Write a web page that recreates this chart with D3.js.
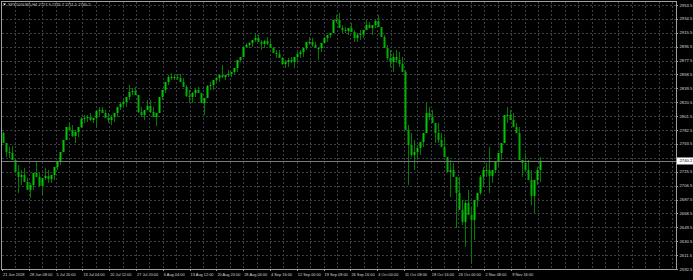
<!DOCTYPE html>
<html>
<head>
<meta charset="utf-8">
<script src="https://cdn.jsdelivr.net/npm/d3@7"></script>
<style>
  body { margin: 0; background: #000; }
  svg { display: block; }
</style>
</head>
<body>
<div id="chart"></div>
<script>
const symbol = "SPX500USD,H4";
const firstOpen = 2778.5;
const highs = [
  2779.9, 2764.8, 2759.4, 2760.7, 2744.3, 2734.8, 2727.9, 2730.7, 2717.0, 2710.2,
  2723.8, 2740.2, 2723.8, 2717.0, 2730.7, 2727.9, 2721.1, 2732.0, 2738.9, 2752.5,
  2768.9, 2786.7, 2793.5, 2789.4, 2782.6, 2786.7, 2800.4, 2803.1, 2803.1, 2805.8,
  2799.0, 2809.9, 2814.0, 2814.0, 2809.9, 2805.8, 2803.1, 2805.8, 2814.0, 2820.9,
  2823.6, 2827.7, 2844.1, 2840.0, 2841.4, 2823.6, 2814.0, 2809.9, 2823.6, 2823.6,
  2814.0, 2805.8, 2827.7, 2837.3, 2848.2, 2857.8, 2860.5, 2857.8, 2859.1, 2859.1,
  2853.7, 2844.1, 2837.3, 2834.5, 2840.0, 2841.4, 2833.2, 2826.3, 2844.1, 2848.2,
  2850.9, 2855.0, 2857.8, 2871.5, 2857.8, 2864.6, 2861.9, 2867.4, 2878.3, 2882.4,
  2896.1, 2901.5, 2902.9, 2905.6, 2915.2, 2912.5, 2905.6, 2905.6, 2909.7, 2905.6,
  2896.1, 2892.0, 2892.0, 2882.4, 2878.3, 2881.0, 2882.4, 2882.4, 2889.2, 2892.0,
  2894.7, 2902.9, 2909.7, 2908.4, 2902.9, 2896.1, 2901.5, 2909.7, 2912.5, 2915.2,
  2933.0, 2939.8, 2942.5, 2926.1, 2923.4, 2922.0, 2928.9, 2919.3, 2915.2, 2919.3,
  2919.3, 2933.0, 2930.2, 2926.1, 2933.0, 2939.8, 2922.0, 2912.5, 2898.8, 2892.0,
  2887.9, 2892.0, 2889.2, 2882.4, 2864.6, 2789.4, 2778.5, 2768.9, 2762.1, 2766.2,
  2778.5, 2819.5, 2814.0, 2809.9, 2785.3, 2792.2, 2778.5, 2773.0, 2741.6, 2741.6,
  2737.5, 2707.4, 2718.4, 2686.9, 2686.9, 2700.6, 2677.3, 2686.9, 2696.5, 2721.1,
  2732.0, 2737.5, 2759.4, 2727.9, 2738.9, 2751.2, 2764.8, 2803.1, 2814.0, 2809.9,
  2805.8, 2792.2, 2786.7, 2741.6, 2751.2, 2741.6, 2727.9, 2714.3, 2732.0, 2745.7
];
const lows = [
  2764.8, 2745.7, 2744.3, 2741.6, 2725.2, 2696.5, 2707.4, 2711.5, 2700.6, 2689.7,
  2700.6, 2718.4, 2704.7, 2693.8, 2714.3, 2710.2, 2710.2, 2714.3, 2727.9, 2734.8,
  2755.3, 2768.9, 2782.6, 2773.0, 2764.8, 2773.0, 2785.3, 2792.2, 2793.5, 2794.9,
  2792.2, 2786.7, 2801.7, 2805.8, 2799.0, 2792.2, 2789.4, 2793.5, 2800.4, 2809.9,
  2812.7, 2814.0, 2823.6, 2830.4, 2830.4, 2805.8, 2800.4, 2796.3, 2809.9, 2805.8,
  2800.4, 2788.1, 2809.9, 2823.6, 2833.2, 2844.1, 2850.9, 2850.9, 2850.9, 2848.2,
  2841.4, 2827.7, 2819.5, 2819.5, 2827.7, 2833.2, 2819.5, 2803.1, 2833.2, 2837.3,
  2837.3, 2846.8, 2848.2, 2853.7, 2850.9, 2855.0, 2855.0, 2857.8, 2861.9, 2875.6,
  2882.4, 2894.7, 2894.7, 2896.1, 2902.9, 2902.9, 2892.0, 2894.7, 2898.8, 2894.7,
  2887.9, 2881.0, 2881.0, 2871.5, 2867.4, 2868.7, 2874.2, 2867.4, 2875.6, 2881.0,
  2882.4, 2892.0, 2898.8, 2896.1, 2894.7, 2878.3, 2889.2, 2901.5, 2902.9, 2908.4,
  2916.6, 2928.9, 2922.0, 2915.2, 2915.2, 2912.5, 2916.6, 2902.9, 2902.9, 2905.6,
  2908.4, 2919.3, 2922.0, 2912.5, 2922.0, 2923.4, 2909.7, 2894.7, 2878.3, 2868.7,
  2861.9, 2874.2, 2868.7, 2861.9, 2782.6, 2707.4, 2745.7, 2727.9, 2741.6, 2748.4,
  2759.4, 2778.5, 2796.3, 2792.2, 2764.8, 2764.8, 2759.4, 2745.7, 2725.2, 2691.0,
  2718.4, 2648.6, 2673.3, 2652.7, 2622.7, 2666.4, 2600.8, 2632.2, 2677.3, 2693.8,
  2704.7, 2718.4, 2696.5, 2710.2, 2723.8, 2732.0, 2741.6, 2764.8, 2792.2, 2796.3,
  2786.7, 2778.5, 2741.6, 2718.4, 2725.2, 2714.3, 2680.1, 2669.2, 2707.4, 2711.5
];
const closes = [
  2764.8, 2752.5, 2751.2, 2741.6, 2725.2, 2718.4, 2721.1, 2711.5, 2700.6, 2707.4,
  2723.8, 2718.4, 2706.1, 2717.0, 2719.7, 2715.6, 2721.1, 2732.0, 2738.9, 2752.5,
  2768.9, 2786.7, 2782.6, 2774.4, 2779.9, 2786.7, 2797.6, 2799.0, 2800.4, 2796.3,
  2799.0, 2808.6, 2809.9, 2805.8, 2799.0, 2796.3, 2800.4, 2805.8, 2814.0, 2818.1,
  2820.9, 2827.7, 2834.5, 2835.9, 2830.4, 2807.2, 2803.1, 2809.9, 2815.4, 2807.2,
  2800.4, 2805.8, 2827.7, 2837.3, 2848.2, 2855.0, 2855.0, 2855.0, 2853.7, 2848.2,
  2841.4, 2829.1, 2827.7, 2833.2, 2837.3, 2833.2, 2819.5, 2826.3, 2842.7, 2844.1,
  2850.9, 2853.7, 2857.8, 2855.0, 2857.8, 2859.1, 2861.9, 2867.4, 2878.3, 2882.4,
  2896.1, 2898.8, 2901.5, 2905.6, 2908.4, 2902.9, 2900.2, 2904.3, 2900.2, 2894.7,
  2887.9, 2886.5, 2881.0, 2872.8, 2875.6, 2878.3, 2875.6, 2882.4, 2886.5, 2889.2,
  2894.7, 2902.9, 2902.9, 2898.8, 2894.7, 2894.7, 2901.5, 2908.4, 2912.5, 2915.2,
  2933.0, 2933.0, 2922.0, 2919.3, 2917.9, 2922.0, 2916.6, 2908.4, 2912.5, 2913.8,
  2919.3, 2926.1, 2922.0, 2926.1, 2931.6, 2923.4, 2909.7, 2894.7, 2881.0, 2875.6,
  2882.4, 2878.3, 2872.8, 2861.9, 2782.6, 2762.1, 2748.4, 2752.5, 2758.0, 2766.2,
  2778.5, 2805.8, 2800.4, 2792.2, 2778.5, 2768.9, 2759.4, 2745.7, 2725.2, 2727.9,
  2718.4, 2696.5, 2673.3, 2656.9, 2682.8, 2666.4, 2659.6, 2686.9, 2696.5, 2718.4,
  2727.9, 2727.9, 2719.7, 2727.9, 2738.9, 2751.2, 2764.8, 2803.1, 2803.1, 2796.3,
  2786.7, 2778.5, 2741.6, 2737.5, 2727.9, 2714.3, 2692.4, 2714.3, 2727.9, 2740.2
];
const priceTicks = [
  2953.5, 2934.5, 2915.5, 2896.5, 2877.5, 2858.5, 2839.5, 2820.5, 2801.5, 2782.5,
  2763.5, 2744.5, 2725.5, 2706.5, 2687.5, 2668.5, 2649.5, 2630.5, 2611.5, 2592.5
];
const dateLabels = [
  "21 Jun 2018", "28 Jun 08:00", "5 Jul 20:00", "13 Jul 04:00", "20 Jul 12:00",
  "27 Jul 20:00", "6 Aug 04:00", "13 Aug 12:00", "20 Aug 20:00", "28 Aug 04:00",
  "4 Sep 16:00", "12 Sep 00:00", "19 Sep 08:00", "26 Sep 16:00", "4 Oct 00:00",
  "11 Oct 08:00", "18 Oct 16:00", "26 Oct 00:00", "2 Nov 08:00", "9 Nov 16:00"
];

const W = 693, H = 280;
const plot = { left: 2, top: 2, right: 676, bottom: 269 };
const font = "'Liberation Sans', Arial, sans-serif";

const svg = d3.select("#chart").append("svg")
  .attr("width", W).attr("height", H);

svg.append("rect").attr("width", W).attr("height", H).attr("fill", "#000");

// scales
const y = d3.scaleLinear()
  .domain([priceTicks[priceTicks.length - 1], priceTicks[0]])
  .range([269, 5]);

const x = d3.scaleLinear()
  .domain([0, highs.length])
  .range([plot.left, plot.left + highs.length * 3]);

// time grid: one label every two grid columns
const tx = d3.scaleLinear().domain([0, 25]).range([plot.left, 672]);

const px = v => Math.round(v) + 0.5;

// grid
const grid = svg.append("g")
  .attr("stroke", "#3b4046")
  .attr("stroke-width", 1)
  .attr("stroke-dasharray", "2,2");

grid.selectAll("line.h")
  .data(priceTicks)
  .enter().append("line")
  .attr("x1", plot.left).attr("x2", plot.right)
  .attr("y1", d => px(y(d))).attr("y2", d => px(y(d)));

grid.selectAll("line.v")
  .data(d3.range(1, 51).map(k => k / 2))
  .enter().append("line")
  .attr("x1", d => px(tx(d))).attr("x2", d => px(tx(d)))
  .attr("y1", plot.top).attr("y2", plot.bottom);

// candles
const bars = highs.map((h, i) => ({
  i: i,
  high: h,
  low: lows[i],
  open: i === 0 ? firstOpen : closes[i - 1],
  close: closes[i]
}));

svg.append("g").selectAll("rect")
  .data(bars)
  .enter().append("rect")
  .attr("x", d => x(d.i) + 1)
  .attr("width", 1)
  .attr("y", d => y(d.high))
  .attr("height", d => Math.max(1, y(d.low) - y(d.high)))
  .attr("fill", "#007c00");

svg.append("g").selectAll("rect")
  .data(bars)
  .enter().append("rect")
  .attr("x", d => x(d.i) + 0.5)
  .attr("width", 2)
  .attr("y", d => y(Math.max(d.open, d.close)))
  .attr("height", d => Math.max(1, Math.abs(y(d.open) - y(d.close))))
  .attr("fill", d => d.close >= d.open ? "#00c800" : "#00b000");

// current price line
const last = bars[bars.length - 1];
svg.append("line")
  .attr("x1", plot.left).attr("x2", plot.right)
  .attr("y1", px(y(last.close))).attr("y2", px(y(last.close)))
  .attr("stroke", "#7a7a7a").attr("stroke-width", 1);

// frame
svg.append("rect")
  .attr("x", plot.left - 0.5).attr("y", plot.top - 0.5)
  .attr("width", plot.right - plot.left + 1)
  .attr("height", plot.bottom - plot.top + 1)
  .attr("fill", "none").attr("stroke", "#a0a0a0").attr("stroke-width", 1);

// right price axis
const yLab = svg.append("g")
  .attr("font-family", font).attr("font-size", 4.2).attr("fill", "#d8d8d8");

const visibleTicks = priceTicks.filter(d => Math.abs(y(d) - y(last.close)) > 5);
yLab.selectAll("line")
  .data(visibleTicks)
  .enter().append("line")
  .attr("x1", plot.right).attr("x2", plot.right + 2)
  .attr("y1", d => px(y(d))).attr("y2", d => px(y(d)))
  .attr("stroke", "#a0a0a0");
yLab.selectAll("text")
  .data(visibleTicks)
  .enter().append("text")
  .attr("x", plot.right + 3.5)
  .attr("y", d => y(d) + 1.5)
  .text(d => d.toFixed(1));

// price tag
svg.append("rect")
  .attr("x", plot.right + 1).attr("y", y(last.close) - 3.5)
  .attr("width", 16).attr("height", 7)
  .attr("fill", "#ffffff");
svg.append("text")
  .attr("x", plot.right + 3.5).attr("y", y(last.close) + 1.5)
  .attr("font-family", font).attr("font-size", 4.2).attr("fill", "#000")
  .text(last.close.toFixed(1));

// bottom time axis
const xLab = svg.append("g")
  .attr("font-family", font).attr("font-size", 3.9).attr("fill", "#d8d8d8");
xLab.selectAll("line")
  .data(dateLabels)
  .enter().append("line")
  .attr("x1", (d, k) => px(tx(k))).attr("x2", (d, k) => px(tx(k)))
  .attr("y1", plot.bottom).attr("y2", plot.bottom + 2)
  .attr("stroke", "#a0a0a0");
xLab.selectAll("text")
  .data(dateLabels)
  .enter().append("text")
  .attr("x", (d, k) => tx(k) + 1)
  .attr("y", 275.5)
  .text(d => d);

// title
svg.append("path")
  .attr("d", "M3,3.5 L6,3.5 L4.5,5.5 Z")
  .attr("fill", "#ffffff");
svg.append("text")
  .attr("x", 8).attr("y", 6)
  .attr("font-family", font).attr("font-size", 4).attr("fill", "#c8c8c8")
  .text(symbol + "  " + [last.open, last.high, last.low, last.close]
    .map(v => v.toFixed(1)).join(" "));
</script>
</body>
</html>
